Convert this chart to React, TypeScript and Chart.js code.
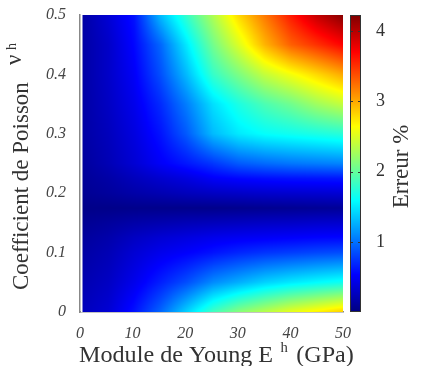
import { useEffect, useRef } from 'react';
import { Chart, registerables } from 'chart.js';

Chart.register(...registerables);

// Young's modulus E^h (GPa) — grid columns
const youngModulus = [0, 5, 10, 15, 20, 25, 30, 35, 40, 45, 50];
// Poisson coefficient ν^h — grid rows
const poisson = [0, 0.05, 0.1, 0.125, 0.15, 0.175, 0.2, 0.225, 0.25, 0.3, 0.35, 0.4, 0.45, 0.5];

// Error (%) read per row of ν^h, one value per E^h column
const errNu000 = [0.25, 0.35, 0.6, 0.95, 1.4, 1.85, 2.15, 2.35, 2.55, 2.7, 2.85];
const errNu050 = [0.2, 0.28, 0.45, 0.65, 0.85, 1.1, 1.25, 1.4, 1.5, 1.58, 1.65];
const errNu100 = [0.15, 0.22, 0.35, 0.45, 0.52, 0.6, 0.68, 0.74, 0.78, 0.82, 0.85];
const errNu125 = [0.12, 0.18, 0.28, 0.35, 0.4, 0.45, 0.48, 0.5, 0.52, 0.54, 0.55];
const errNu150 = [0.08, 0.12, 0.17, 0.2, 0.23, 0.25, 0.27, 0.29, 0.3, 0.32, 0.33];
const errNu175 = [0.04, 0.04, 0.05, 0.05, 0.05, 0.05, 0.06, 0.07, 0.08, 0.09, 0.1];
const errNu200 = [0.08, 0.12, 0.17, 0.21, 0.25, 0.28, 0.3, 0.32, 0.33, 0.34, 0.35];
const errNu225 = [0.1, 0.16, 0.25, 0.33, 0.4, 0.5, 0.55, 0.58, 0.6, 0.61, 0.62];
const errNu250 = [0.12, 0.22, 0.35, 0.5, 0.62, 0.75, 0.9, 0.97, 1.02, 1.05, 1.08];
const errNu300 = [0.15, 0.25, 0.4, 0.6, 0.9, 1.3, 1.5, 1.6, 1.65, 1.7, 1.75];
const errNu350 = [0.15, 0.28, 0.45, 0.7, 1.05, 1.45, 1.7, 1.9, 2.05, 2.25, 2.4];
const errNu400 = [0.15, 0.3, 0.5, 0.85, 1.3, 1.8, 2.1, 2.4, 2.6, 2.8, 3.0];
const errNu450 = [0.15, 0.3, 0.55, 0.95, 1.5, 2.05, 2.5, 2.95, 3.3, 3.5, 3.7];
const errNu500 = [0.15, 0.35, 0.6, 1.3, 1.8, 2.3, 2.8, 3.2, 3.6, 3.95, 4.2];

const errorRows = [
  errNu000, errNu050, errNu100, errNu125, errNu150, errNu175, errNu200,
  errNu225, errNu250, errNu300, errNu350, errNu400, errNu450, errNu500,
];

const xTicks = [0, 10, 20, 30, 40, 50];
const yTicks = [0, 0.1, 0.2, 0.3, 0.4, 0.5];
const cbTicks = [1, 2, 3, 4];
const cbMin = 0;
const cbMax = 4.23;

const xTitle = 'Module de Young E';
const xTitleSup = 'h';
const xTitleUnit = '(GPa)';
const yTitle = 'Coefficient de Poisson';
const yTitleSym = 'ν';
const yTitleSup = 'h';
const cbTitle = 'Erreur %';

const SERIF = '"Liberation Serif", "Times New Roman", serif';

function jet(t: number): [number, number, number] {
  const c = (v: number) => Math.max(0, Math.min(1, v));
  const r = c(1.5 - Math.abs(4 * t - 3));
  const g = c(1.5 - Math.abs(4 * t - 2));
  const b = c(1.5 - Math.abs(4 * t - 1));
  return [Math.round(r * 255), Math.round(g * 255), Math.round(b * 255)];
}

function locate(arr: number[], v: number): [number, number] {
  if (v <= arr[0]) return [0, 0];
  const n = arr.length;
  if (v >= arr[n - 1]) return [n - 2, 1];
  for (let i = 0; i < n - 1; i++) {
    if (v >= arr[i] && v <= arr[i + 1]) {
      return [i, (v - arr[i]) / (arr[i + 1] - arr[i])];
    }
  }
  return [n - 2, 1];
}

function errorAt(xv: number, yv: number): number {
  const [j, tx] = locate(youngModulus, xv);
  const [i, ty] = locate(poisson, yv);
  const a = errorRows[i][j];
  const b = errorRows[i][j + 1];
  const c = errorRows[i + 1][j];
  const d = errorRows[i + 1][j + 1];
  return (a * (1 - tx) + b * tx) * (1 - ty) + (c * (1 - tx) + d * tx) * ty;
}

const zeroPad = (s: any) => {
  s.paddingTop = 0;
  s.paddingBottom = 0;
  s.paddingLeft = 0;
  s.paddingRight = 0;
};

const heatmapPlugin = {
  id: 'heatmap',
  beforeDatasetsDraw(chart: any) {
    const { ctx, scales } = chart;
    const xs = scales.x;
    const ys = scales.y;
    const px0 = Math.round(xs.getPixelForValue(youngModulus[0]));
    const px1 = Math.round(xs.getPixelForValue(youngModulus[youngModulus.length - 1]));
    const py0 = Math.round(ys.getPixelForValue(poisson[poisson.length - 1]));
    const py1 = Math.round(ys.getPixelForValue(poisson[0]));
    const w = px1 - px0;
    const h = py1 - py0;
    if (w <= 0 || h <= 0) return;
    const off = document.createElement('canvas');
    off.width = w;
    off.height = h;
    const octx = off.getContext('2d')!;
    const img = octx.createImageData(w, h);
    for (let py = 0; py < h; py++) {
      const yv = ys.getValueForPixel(py0 + py + 0.5);
      for (let px = 0; px < w; px++) {
        const xv = xs.getValueForPixel(px0 + px + 0.5);
        const v = errorAt(xv, yv);
        const [r, g, b] = jet((v - cbMin) / (cbMax - cbMin));
        const k = (py * w + px) * 4;
        img.data[k] = r;
        img.data[k + 1] = g;
        img.data[k + 2] = b;
        img.data[k + 3] = 255;
      }
    }
    octx.putImageData(img, 0, 0);
    ctx.save();
    ctx.drawImage(off, px0 + 2, py0, w - 2, h);
    ctx.fillStyle = '#fff';
    ctx.fillRect(px0 + 1, py0, 1.5, h);
    ctx.restore();
  },
};

const colorbarPlugin = {
  id: 'colorbar',
  afterDraw(chart: any) {
    const { ctx, scales, chartArea } = chart;
    const cs = scales.c;
    const barLeft = cs.left + 7;
    const barW = 11;
    const top = Math.round(cs.getPixelForValue(cbMax));
    const bottom = Math.round(cs.getPixelForValue(cbMin));
    ctx.save();
    for (let py = top; py < bottom; py++) {
      const v = cs.getValueForPixel(py + 0.5);
      const [r, g, b] = jet((v - cbMin) / (cbMax - cbMin));
      ctx.fillStyle = `rgb(${r},${g},${b})`;
      ctx.fillRect(barLeft, py, barW, 1);
    }
    ctx.strokeStyle = '#333';
    ctx.lineWidth = 1;
    ctx.strokeRect(barLeft + 0.5, top + 0.5, barW - 1, bottom - top - 1);
    cbTicks.forEach((t) => {
      const yy = Math.round(cs.getPixelForValue(t)) + 0.5;
      ctx.beginPath();
      ctx.moveTo(barLeft, yy);
      ctx.lineTo(barLeft + 3, yy);
      ctx.moveTo(barLeft + barW - 3, yy);
      ctx.lineTo(barLeft + barW, yy);
      ctx.stroke();
    });

    // colorbar title (rotated, bottom-to-top)
    ctx.fillStyle = '#333';
    ctx.font = `23px ${SERIF}`;
    ctx.translate(408, (chartArea.top + chartArea.bottom) / 2 + 3);
    ctx.rotate(-Math.PI / 2);
    ctx.textAlign = 'center';
    ctx.textBaseline = 'alphabetic';
    ctx.fillText(cbTitle, 0, 0);
    ctx.restore();

    // y axis title
    ctx.save();
    ctx.fillStyle = '#333';
    ctx.translate(28, 290);
    ctx.rotate(-Math.PI / 2);
    ctx.textAlign = 'left';
    ctx.textBaseline = 'alphabetic';
    ctx.font = `23px ${SERIF}`;
    ctx.fillText(yTitle, 0, 0);
    ctx.fillText(yTitleSym, 225, -7);
    ctx.font = `14px ${SERIF}`;
    ctx.fillText(yTitleSup, 240, -12);
    ctx.restore();

    // x axis title (slightly wide, as in the reference)
    ctx.save();
    ctx.fillStyle = '#333';
    ctx.textAlign = 'left';
    ctx.textBaseline = 'alphabetic';
    ctx.translate(79, 362);
    ctx.scale(1.05, 1);
    ctx.font = `23px ${SERIF}`;
    ctx.fillText(xTitle, 0, 0);
    const wMain = ctx.measureText(xTitle).width;
    ctx.font = `14px ${SERIF}`;
    ctx.fillText(xTitleSup, wMain + 7, -10);
    const wSup = ctx.measureText(xTitleSup).width;
    ctx.font = `23px ${SERIF}`;
    ctx.fillText(xTitleUnit, wMain + 7 + wSup + 8, 0);
    ctx.restore();
  },
};

export default function App() {
  const canvasRef = useRef<HTMLCanvasElement | null>(null);

  useEffect(() => {
    const canvas = canvasRef.current;
    if (!canvas) return;
    const tickFont = { family: SERIF, size: 16, style: 'italic' as const };
    const chart = new Chart(canvas, {
      type: 'scatter',
      data: { datasets: [{ data: [], showLine: false, pointRadius: 0 }] },
      options: {
        animation: false,
        responsive: true,
        maintainAspectRatio: false,
        layout: { padding: { top: 15, left: 0, right: 0, bottom: 0 } },
        plugins: {
          legend: { display: false },
          tooltip: { enabled: false },
        },
        scales: {
          x: {
            type: 'linear',
            position: 'bottom',
            min: youngModulus[0],
            max: youngModulus[youngModulus.length - 1],
            afterBuildTicks: (s: any) => {
              s.ticks = xTicks.map((v) => ({ value: v }));
            },
            ticks: {
              font: tickFont,
              color: '#444',
              padding: 4,
              maxRotation: 0,
              autoSkip: false,
              callback: (v: any) => String(v),
            },
            grid: { display: false },
            border: { display: true, color: '#888', width: 1.5 },
            afterFit: (s: any) => {
              s.height = 54;
              zeroPad(s);
            },
          },
          y: {
            type: 'linear',
            position: 'left',
            min: poisson[0],
            max: poisson[poisson.length - 1],
            afterBuildTicks: (s: any) => {
              s.ticks = yTicks.map((v) => ({ value: v }));
            },
            ticks: {
              font: tickFont,
              color: '#444',
              padding: 6,
              autoSkip: false,
              callback: (v: any) => String(Number(Number(v).toFixed(1))),
            },
            grid: { display: false },
            border: { display: true, color: '#888', width: 1.5 },
            afterFit: (s: any) => {
              s.width = 80;
              zeroPad(s);
            },
          },
          c: {
            type: 'linear',
            position: 'right',
            min: cbMin,
            max: cbMax,
            afterBuildTicks: (s: any) => {
              s.ticks = cbTicks.map((v) => ({ value: v }));
            },
            ticks: {
              font: { family: SERIF, size: 18 },
              color: '#333',
              padding: 25,
              autoSkip: false,
              callback: (v: any) => String(v),
            },
            grid: { display: false },
            border: { display: false },
            afterFit: (s: any) => {
              s.width = 79;
              zeroPad(s);
            },
          },
        },
      },
      plugins: [heatmapPlugin, colorbarPlugin],
    });
    return () => chart.destroy();
  }, []);

  return (
    <div style={{ position: 'absolute', left: 0, top: 0, width: 422, height: 366, background: '#fff' }}>
      <canvas ref={canvasRef} />
    </div>
  );
}
